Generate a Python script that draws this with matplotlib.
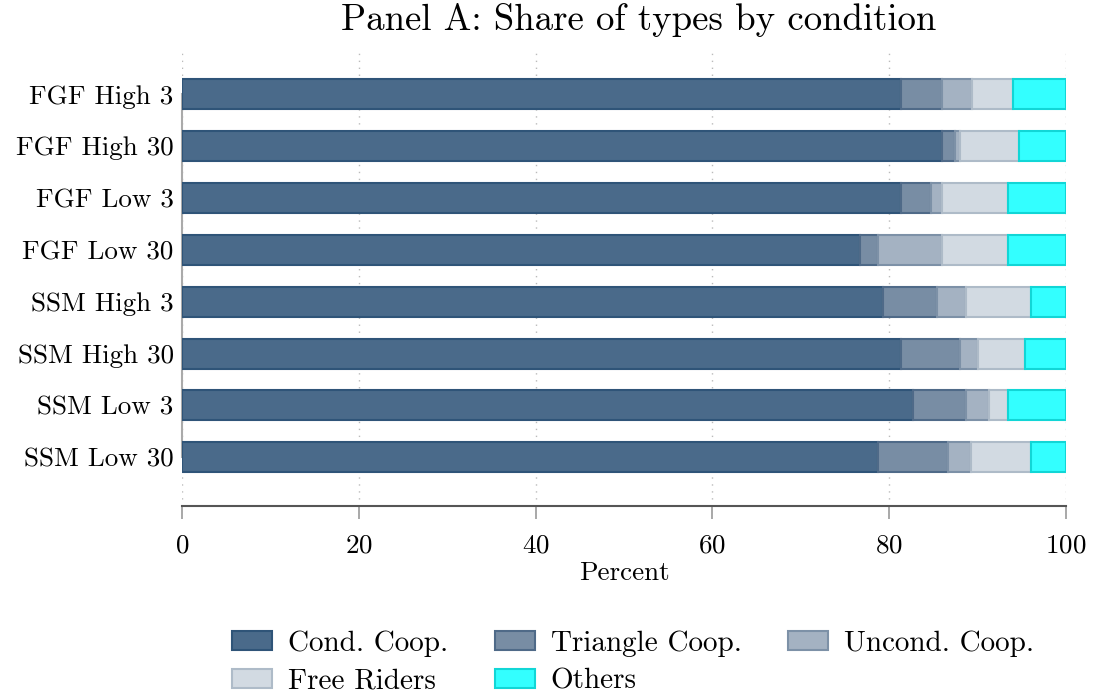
import matplotlib.pyplot as plt
import numpy as np

plt.rcParams['font.family'] = ['cmr10', 'DejaVu Serif']
plt.rcParams['axes.formatter.use_mathtext'] = True
plt.rcParams['mathtext.fontset'] = 'cm'

conditions = ['FGF High 3', 'FGF High 30', 'FGF Low 3', 'FGF Low 30',
              'SSM High 3', 'SSM High 30', 'SSM Low 3', 'SSM Low 30']
cond_coop = [81.3, 86.0, 81.3, 76.7, 79.3, 81.3, 82.7, 78.7]
triangle_coop = [4.7, 1.4, 3.4, 2.0, 6.1, 6.7, 6.0, 8.0]
uncond_coop = [3.4, 0.6, 1.3, 7.3, 3.3, 2.0, 2.6, 2.6]
free_riders = [4.6, 6.7, 7.4, 7.4, 7.3, 5.4, 2.1, 6.7]
others = [6.0, 5.3, 6.6, 6.6, 4.0, 4.6, 6.6, 4.0]

series = [
    ('Cond. Coop.', cond_coop, '#4a6a8a', '#2f5478'),
    ('Triangle Coop.', triangle_coop, '#788da4', '#4f6a88'),
    ('Uncond. Coop.', uncond_coop, '#a4b2c2', '#7d91a7'),
    ('Free Riders', free_riders, '#d2dae2', '#aebbc8'),
    ('Others', others, '#33ffff', '#11d6d6'),
]

fs = 19.5

fig = plt.figure(figsize=(10.93, 6.98), dpi=100)
ax = fig.add_axes([0.1665, 0.275, 0.8088, 0.6562])

y = np.arange(len(conditions))
left = np.zeros(len(conditions))
handles = []
for name, vals, face, edge in series:
    b = ax.barh(y, vals, left=left, height=0.58, color=face,
                edgecolor=edge, linewidth=1.5, label=name, zorder=3)
    handles.append(b)
    left += np.array(vals)

ax.set_xlim(0, 100)
ax.set_ylim(7.94, -0.89)
ax.set_yticks(y)
ax.set_yticklabels(conditions, fontsize=fs)
ax.set_xticks([0, 20, 40, 60, 80, 100])
ax.tick_params(axis='x', labelsize=fs, length=9, width=1.2, color='#999999',
               pad=11)
ax.tick_params(axis='y', length=0, pad=6)
ax.set_xlabel('Percent', fontsize=fs, labelpad=3)

ax.grid(axis='x', linestyle=(0, (1, 4)), color='#bbbbbb', linewidth=1,
        zorder=0)
for s in ['top', 'right']:
    ax.spines[s].set_visible(False)
ax.spines['bottom'].set_color('#555555')
ax.spines['bottom'].set_linewidth(1.5)
ax.spines['left'].set_color('#aaaaaa')
ax.spines['left'].set_linewidth(1.5)
ax.spines['left'].set_bounds(0, 7)

fig.text(0.584, 0.972, 'Panel A: Share of types by condition', fontsize=26.5,
         ha='center', va='center')

order = [0, 3, 1, 4, 2]
fig.legend([handles[i] for i in order], [series[i][0] for i in order],
           loc='upper left', bbox_to_anchor=(0.2123, 0.097), ncol=3,
           frameon=False, fontsize=21, handlelength=1.37, handleheight=0.62,
           columnspacing=1.6, labelspacing=0.4, handletextpad=0.55,
           borderpad=0, borderaxespad=0)

fig.savefig('out.png', dpi=100)
